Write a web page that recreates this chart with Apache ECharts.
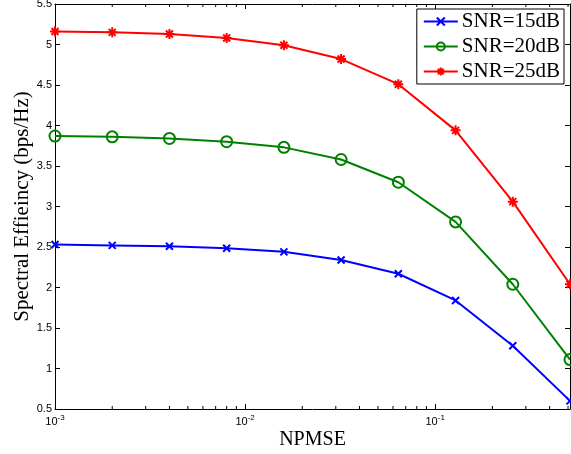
<!DOCTYPE html>
<html>
<head>
<meta charset="utf-8">
<script src="https://cdn.jsdelivr.net/npm/echarts@6/dist/echarts.min.js"></script>
<style>
  html, body { margin: 0; padding: 0; background: #fff; }
  #chart { width: 571px; height: 454px; }
</style>
</head>
<body>
<div id="chart"></div>
<script>
// NPMSE values (x, log scale)
var npmse = [0.001, 0.002, 0.004, 0.008, 0.016, 0.032, 0.064, 0.128, 0.256, 0.512];
// spectral efficiency per SNR
var snr15 = [2.53, 2.52, 2.51, 2.485, 2.44, 2.34, 2.17, 1.84, 1.28, 0.60];
var snr20 = [3.87, 3.86, 3.84, 3.80, 3.73, 3.58, 3.30, 2.81, 2.04, 1.11];
var snr25 = [5.16, 5.15, 5.13, 5.08, 4.99, 4.82, 4.51, 3.94, 3.06, 2.04];
var seriesNames = ['SNR=15dB', 'SNR=20dB', 'SNR=25dB'];
// minor tick values for the log axis
var minorTicks = [0.002, 0.003, 0.004, 0.005, 0.006, 0.007, 0.008, 0.009,
  0.02, 0.03, 0.04, 0.05, 0.06, 0.07, 0.08, 0.09,
  0.2, 0.3, 0.4, 0.5];

var yMin = 0.5, yMax = 5.5;

function pairs(ys) {
  return ys.map(function (y, i) { return [npmse[i], y]; });
}

var serif = '"Liberation Serif", "Times New Roman", serif';
var sans = '"Liberation Sans", Arial, sans-serif';

var xSym = 'path://M0,0L10,10M10,0L0,10';
var starSym = 'path://M5,0L5,10M0,5L10,5M1.5,1.5L8.5,8.5M8.5,1.5L1.5,8.5';

var chart = echarts.init(document.getElementById('chart'));

var supLabel = function (v) {
  var e = Math.round(Math.log10(v));
  return '{b|10}{s|' + e + '}';
};

chart.setOption({
  animation: false,
  grid: { left: 55, right: 1, top: 4, bottom: 45, containLabel: false, outerBoundsMode: 'none' },
  legend: {
    orient: 'vertical',
    right: 7,
    top: 9,
    padding: [2, 4, 2, 6],
    itemGap: 4,
    itemWidth: 34,
    itemHeight: 10,
    borderColor: '#000',
    borderWidth: 1,
    backgroundColor: '#fff',
    textStyle: { fontFamily: serif, fontSize: 21, color: '#000', padding: [0, 0, 0, -1] },
    data: seriesNames
  },
  xAxis: [{
    type: 'log',
    logBase: 10,
    min: 0.001,
    max: 0.512,
    name: 'NPMSE',
    nameLocation: 'middle',
    nameGap: 21,
    nameMoveOverlap: false,
    nameTextStyle: { fontFamily: serif, fontSize: 20, color: '#000' },
    axisLine: { lineStyle: { color: '#000', width: 1 } },
    axisTick: { inside: true, length: 5, lineStyle: { color: '#000' } },
    axisLabel: {
      color: '#000',
      margin: 5,
      formatter: supLabel,
      rich: {
        b: { fontFamily: sans, fontSize: 11, color: '#000' },
        s: { fontFamily: sans, fontSize: 8, color: '#000', verticalAlign: 'bottom', padding: [0, 0, 7, 0] }
      },
      showMaxLabel: false
    },
    splitLine: { show: false }
  }, {
    type: 'log',
    logBase: 10,
    min: 0.001,
    max: 0.512,
    position: 'top',
    axisLine: { lineStyle: { color: '#000', width: 1 } },
    axisTick: { inside: true, length: 5, lineStyle: { color: '#000' } },
    axisLabel: { show: false },
    splitLine: { show: false }
  }],
  yAxis: [{
    type: 'value',
    min: yMin,
    max: yMax,
    interval: 0.5,
    name: 'Spectral Effieincy (bps/Hz)',
    nameLocation: 'middle',
    nameGap: 22,
    nameMoveOverlap: false,
    nameTextStyle: { fontFamily: serif, fontSize: 21, color: '#000' },
    axisLine: { show: true, lineStyle: { color: '#000', width: 1 } },
    axisTick: { show: true, inside: true, length: 5, lineStyle: { color: '#000' } },
    axisLabel: { fontFamily: sans, fontSize: 11, color: '#000', margin: 3 },
    splitLine: { show: false }
  }, {
    type: 'value',
    min: yMin,
    max: yMax,
    interval: 0.5,
    position: 'right',
    axisLine: { show: true, lineStyle: { color: '#000', width: 1 } },
    axisTick: { show: true, inside: true, length: 5, lineStyle: { color: '#000' } },
    axisLabel: { show: false },
    splitLine: { show: false }
  }],
  series: [{
    name: seriesNames[0],
    type: 'line',
    data: pairs(snr15),
    symbol: xSym,
    symbolSize: 7,
    showAllSymbol: true,
    lineStyle: { color: '#0000ff', width: 2 },
    itemStyle: { color: '#0000ff', borderColor: '#0000ff', borderWidth: 2 }
  }, {
    name: seriesNames[1],
    type: 'line',
    data: pairs(snr20),
    symbol: 'circle',
    symbolSize: 11,
    showAllSymbol: true,
    lineStyle: { color: '#008000', width: 2 },
    itemStyle: { color: 'rgba(0,0,0,0)', borderColor: '#008000', borderWidth: 2 }
  }, {
    name: seriesNames[2],
    type: 'line',
    data: pairs(snr25),
    symbol: starSym,
    symbolSize: 10,
    showAllSymbol: true,
    lineStyle: { color: '#ff0000', width: 2 },
    itemStyle: { color: '#ff0000', borderColor: '#ff0000', borderWidth: 2 }
  }, {
    // minor ticks of the log axis, bottom and top
    type: 'custom',
    silent: true,
    data: minorTicks.map(function (v) { return [v]; }),
    encode: { x: 0 },
    renderItem: function (params, api) {
      var v = api.value(0);
      var b = api.coord([v, yMin]);
      var t = api.coord([v, yMax]);
      var st = { stroke: '#000', lineWidth: 1 };
      return {
        type: 'group',
        children: [
          { type: 'line', shape: { x1: b[0], y1: b[1], x2: b[0], y2: b[1] - 3 }, style: st },
          { type: 'line', shape: { x1: t[0], y1: t[1], x2: t[0], y2: t[1] + 3 }, style: st }
        ]
      };
    }
  }]
});
</script>
</body>
</html>
